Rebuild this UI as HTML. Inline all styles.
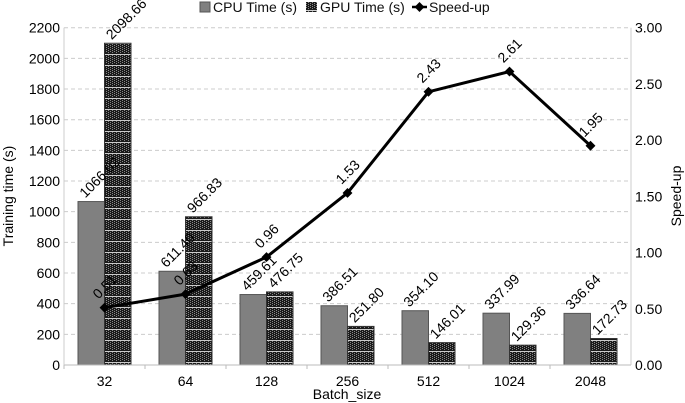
<!DOCTYPE html>
<html><head><meta charset="utf-8"><style>
body{margin:0;background:#fff;}
svg{display:block;font-family:"Liberation Sans",sans-serif;}
</style></head><body>
<svg id="chart" width="685" height="403" viewBox="0 0 685 403">
<defs>
<pattern id="gpuPat" patternUnits="userSpaceOnUse" width="4" height="11">
<rect width="4" height="11" fill="#1a1a1a"/>
<rect x="0" y="0" width="1" height="1" fill="#888"/><rect x="2" y="1" width="1" height="1" fill="#888"/>
<rect x="0" y="2" width="1" height="1" fill="#888"/><rect x="2" y="3" width="1" height="1" fill="#888"/>
<rect x="0" y="4" width="1" height="1" fill="#888"/><rect x="2" y="5" width="1" height="1" fill="#888"/>
<rect x="0" y="6" width="1" height="1" fill="#888"/><rect x="2" y="7" width="1" height="1" fill="#888"/>
<rect x="0" y="8" width="1" height="1" fill="#888"/>
<rect x="0" y="10" width="4" height="1" fill="#ccc"/>
</pattern>
</defs>
<g id="grid"></g><g id="bars"></g><g id="line"></g><g id="labels"></g><g id="axes"></g>
<g font-size="14" fill="#111">
<rect x="200" y="2" width="10" height="10" fill="#808080" stroke="#555"/>
<text x="213" y="12">CPU Time (s)</text>
<rect x="306" y="2" width="11" height="10" fill="url(#gpuPat)"/>
<text x="320" y="12">GPU Time (s)</text>
<line x1="412" y1="7" x2="427" y2="7" stroke="#000" stroke-width="2.5"/>
<rect x="416" y="3.5" width="7" height="7" fill="#000" transform="rotate(45 419.5 7)"/>
<text x="429" y="12">Speed-up</text>
</g>
<text font-size="14" transform="translate(13 196) rotate(-90)" text-anchor="middle">Training time (s)</text>
<text font-size="14" transform="translate(681 196) rotate(-90)" text-anchor="middle">Speed-up</text>
<text font-size="14" x="347" y="399" text-anchor="middle">Batch_size</text>
</svg>
<script>
const categories=["32","64","128","256","512","1024","2048"];
const cpuTimes=[1066.02,611.40,459.61,386.51,354.10,337.99,336.64];
const gpuTimes=[2098.66,966.83,476.75,251.80,146.01,129.36,172.73];
const speedups=[0.51,0.63,0.96,1.53,2.43,2.61,1.95];
const leftTicks=[0,200,400,600,800,1000,1200,1400,1600,1800,2000,2200];
const rightTicks=[0,0.5,1,1.5,2,2.5,3];
const NS="http://www.w3.org/2000/svg";
const L=64,R=631,T=27.7,B=365;
const band=(R-L)/categories.length;
const y1=v=>B-(v/2200)*(B-T);
const y2=v=>B-(v/3)*(B-T);
const xc=i=>L+band*(i+0.5);
function mk(tag,attrs,parent,text){const e=document.createElementNS(NS,tag);for(const k in attrs)e.setAttribute(k,attrs[k]);if(text!==undefined)e.textContent=text;document.getElementById(parent).appendChild(e);return e;}
leftTicks.forEach(t=>{
 if(t>0){const g=mk('line',{x1:L,x2:R,y1:y1(t),y2:y1(t),stroke:'#ccc','stroke-dasharray':'4 3'},'grid');
 
 }
 const tx=mk('text',{x:L-4,y:y1(t)+5,'text-anchor':'end','font-size':'14'},'axes',String(t));
 
 
});
rightTicks.forEach(t=>{
 const tx=mk('text',{x:R+4,y:y2(t)+5,'font-size':'14'},'axes',t.toFixed(2));
 
 
});
const ax=mk('line',{x1:L,x2:R,y1:B,y2:B,stroke:'#bbb'},'axes');


const la=mk('line',{x1:L,x2:L,y1:T,y2:B,stroke:'#ccc'},'axes');


const ra=mk('line',{x1:R,x2:R,y1:T,y2:B,stroke:'#ccc'},'axes');


const bw=26.5;
categories.forEach((c,i)=>{
 const x=xc(i);
 const tk=mk('line',{x1:L+band*i,x2:L+band*i,y1:B,y2:B+4,stroke:'#bbb'},'axes');
 
 
 const tl=mk('text',{x:x,y:B+21,'text-anchor':'middle','font-size':'14'},'axes',c);
 
 
 const cb=mk('rect',{x:x-bw,y:y1(cpuTimes[i]),width:bw,height:B-y1(cpuTimes[i]),fill:'#808080',stroke:'#555','stroke-width':1},'bars');
 
 
 const gb=mk('rect',{x:x,y:y1(gpuTimes[i]),width:bw,height:B-y1(gpuTimes[i]),fill:'url(#gpuPat)',stroke:'#333','stroke-width':1},'bars');
 
 
 const cl=mk('text',{x:x-bw/2-6,y:y1(cpuTimes[i])-3,'font-size':'14',transform:`rotate(-45 ${x-bw/2-6} ${y1(cpuTimes[i])-3})`},'labels',cpuTimes[i].toFixed(2));
 
 
 const gl=mk('text',{x:x+bw/2-6,y:y1(gpuTimes[i])-3,'font-size':'14',transform:`rotate(-45 ${x+bw/2-6} ${y1(gpuTimes[i])-3})`},'labels',gpuTimes[i].toFixed(2));
 
 
});
const pts=speedups.map((v,i)=>xc(i)+','+y2(v)).join(' ');
const pl=mk('polyline',{points:pts,fill:'none',stroke:'#000','stroke-width':3,'stroke-linejoin':'round'},'line');


speedups.forEach((v,i)=>{
 const x=xc(i),y=y2(v);
 const m=mk('rect',{x:x-3.5,y:y-3.5,width:7,height:7,fill:'#000',transform:`rotate(45 ${x} ${y})`},'line');
 
 
 const t=mk('text',{x:x-6,y:y-8,'font-size':'14',transform:`rotate(-45 ${x-6} ${y-8})`},'labels',v.toFixed(2));
 
 
});
</script>
</body></html>
